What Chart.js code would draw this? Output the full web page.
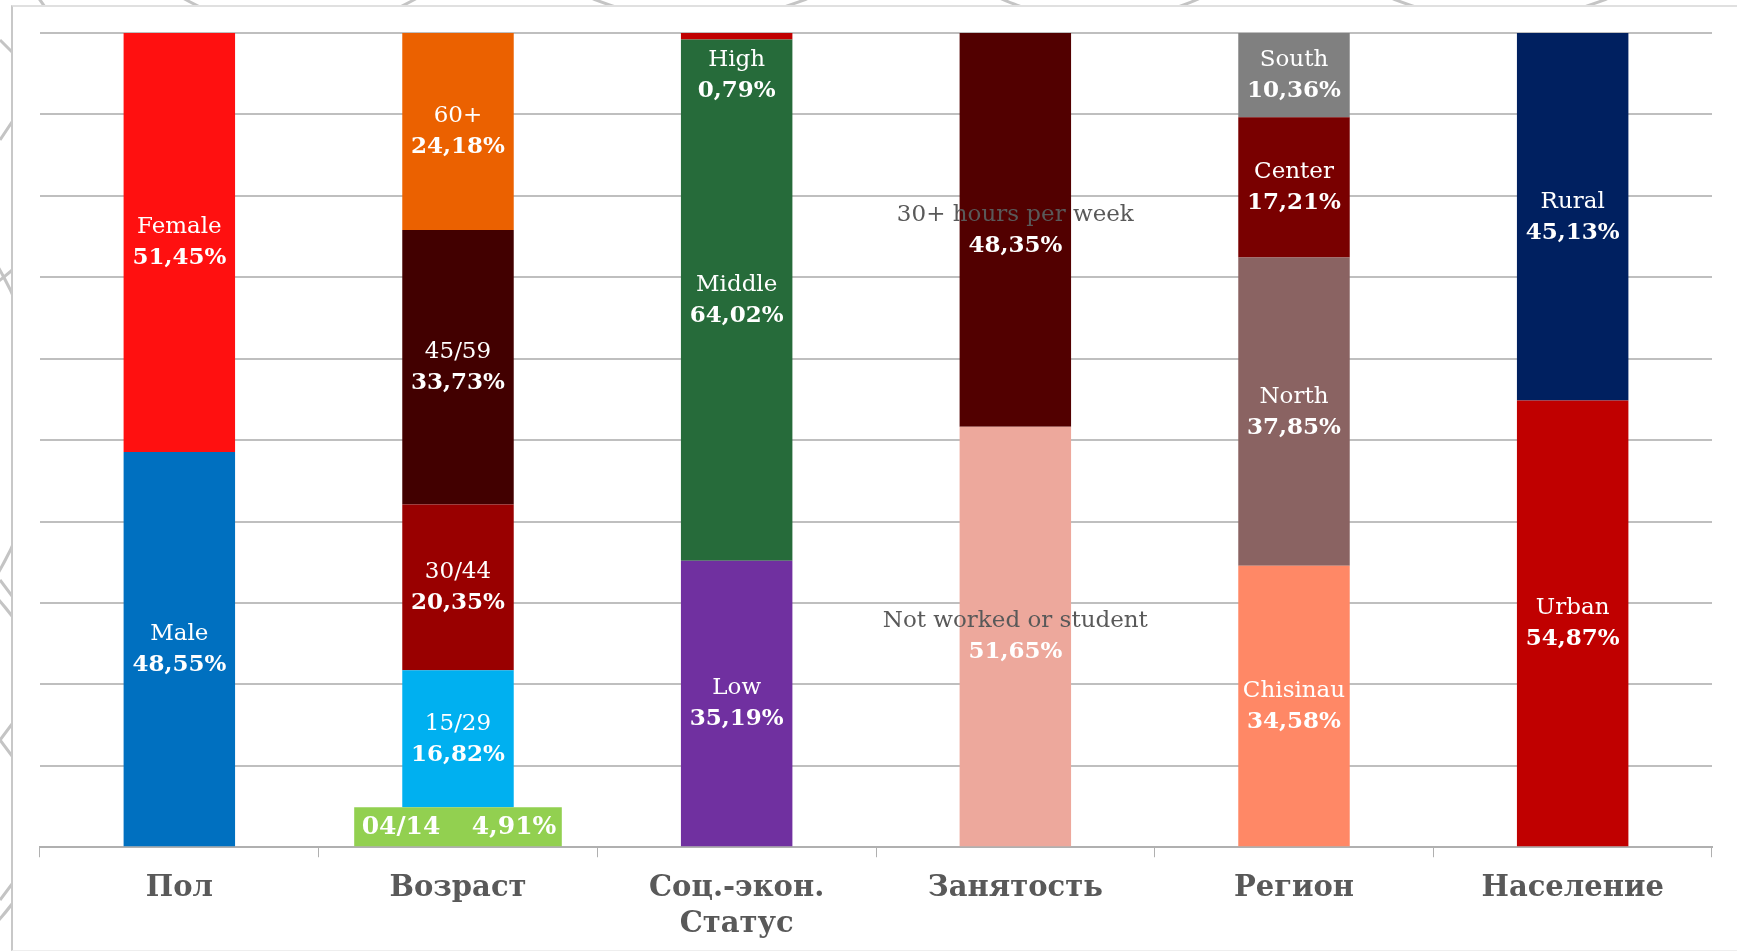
<!DOCTYPE html>
<html>
<head>
<meta charset="utf-8">
<script src="https://cdn.jsdelivr.net/npm/chart.js@4.4.1/dist/chart.umd.min.js"></script>
<style>
    html, body { margin: 0; padding: 0; background: #fff; overflow: hidden; }
    #bg { position: absolute; left: 0; top: 0; width: 1737px; height: 952px; }
    .panel {
        position: absolute; left: 11px; top: 5px; width: 1740px; height: 943px;
        background: #fff; border-left: 2px solid #c8c8c8; border-top: 2px solid #e0e0e0; border-bottom: 1px solid #eee;
    }
    #wrap { position: absolute; left: 0; top: 0; width: 1737px; height: 952px; }
</style>
</head>
<body>
<svg id="bg" width="1737" height="952">
    <g fill="none" stroke="#c4c4c4" stroke-width="3">
        <circle cx="-260" cy="420" r="300"/>
        <circle cx="-180" cy="760" r="240"/>
        <circle cx="-120" cy="120" r="200"/>
        <path d="M0 580 L60 660 L0 740 L60 820 L0 900"/>
        <path d="M0 40 L40 80 L0 140"/>
        <circle cx="300" cy="-200" r="230"/>
        <circle cx="700" cy="-260" r="280"/>
        <circle cx="1100" cy="-220" r="240"/>
        <circle cx="1500" cy="-260" r="280"/>
    </g>
</svg>
<div class="panel"></div>
<div id="wrap"><canvas id="chart"></canvas></div>
<script>
// --- Data ---
const categories = [['Пол'], ['Возраст'], ['Соц.-экон.', 'Статус'], ['Занятость'], ['Регион'], ['Население']];

// segments of each column, bottom to top
const polNames = ['Male', 'Female'];
const polValues = [48.55, 51.45];
const ageNames = ['04/14', '15/29', '30/44', '45/59', '60+'];
const ageValues = [4.91, 16.82, 20.35, 33.73, 24.18];
const sesNames = ['Low', 'Middle', 'High'];
const sesValues = [35.19, 64.02, 0.79];
const workNames = ['Not worked or student', '30+ hours per week'];
const workValues = [51.65, 48.35];
const regionNames = ['Chisinau', 'North', 'Center', 'South'];
const regionValues = [34.58, 37.85, 17.21, 10.36];
const popNames = ['Urban', 'Rural'];
const popValues = [54.87, 45.13];

// --- Styles ---
const columnColors = [
    ['#0070C0', '#FF1010'],
    ['#92D050', '#00B0F0', '#990000', '#420000', '#EB6100'],
    ['#7030A0', '#266B3A', '#C00000'],
    ['#EDA89C', '#520000'],
    ['#FF8866', '#8A6362', '#790000', '#808080'],
    ['#C00000', '#002060']
];
const nameColors = [
    ['#fff', '#fff'],
    ['#fff', '#fff', '#fff', '#fff', '#fff'],
    ['#fff', '#fff', '#fff'],
    ['#595959', '#595959'],
    ['#fff', '#fff', '#fff', '#fff'],
    ['#fff', '#fff']
];

const columns = [
    [polNames, polValues], [ageNames, ageValues], [sesNames, sesValues],
    [workNames, workValues], [regionNames, regionValues], [popNames, popValues]
];

function fmt(v) { return v.toFixed(2).replace('.', ',') + '%'; }

// dataset 0 is the wide 04/14 segment; datasets 1..4 are stacked levels
const datasets = [];
datasets.push({
    data: [null, ageValues[0], null, null, null, null],
    backgroundColor: columnColors[1][0],
    barPercentage: 0.745,
    names: [null, ageNames[0], null, null, null, null],
    nameColors: ['#fff', '#fff', '#fff', '#fff', '#fff', '#fff'],
    inline: true
});
for (let lvl = 0; lvl < 4; lvl++) {
    const data = [], colors = [], names = [], ncol = [];
    columns.forEach(([names_, values], ci) => {
        // age column skips its first (wide) segment
        const idx = ci === 1 ? lvl + 1 : lvl;
        data.push(idx < values.length ? values[idx] : null);
        colors.push(columnColors[ci][idx] || '#000');
        names.push(idx < names_.length ? names_[idx] : null);
        ncol.push((nameColors[ci][idx]) || '#fff');
    });
    datasets.push({ data, backgroundColor: colors, barPercentage: 0.4, names, nameColors: ncol });
}

const nameFont = '23px "DejaVu Serif"';
const valueFont = 'bold 23px "DejaVu Serif"';

const segmentLabels = {
    id: 'segmentLabels',
    afterDatasetsDraw(chart) {
        const ctx = chart.ctx;
        ctx.save();
        ctx.textAlign = 'center';
        ctx.textBaseline = 'middle';
        chart.data.datasets.forEach((ds, di) => {
            chart.getDatasetMeta(di).data.forEach((el, i) => {
                const v = ds.data[i];
                if (v == null) return;
                const top = Math.min(el.y, el.base), bottom = Math.max(el.y, el.base);
                let cy = (top + bottom) / 2;
                if (ds.inline) {
                    ctx.fillStyle = '#fff';
                    ctx.font = 'bold 25px "DejaVu Serif"';
                    ctx.fillText(ds.names[i], el.x - 57, cy + 1);
                    ctx.fillText(fmt(v), el.x + 56, cy + 1);
                    return;
                }
                if (bottom - top < 30) cy = bottom + 36; // thin segment: label below it
                ctx.font = nameFont;
                ctx.fillStyle = ds.nameColors[i];
                ctx.fillText(ds.names[i], el.x, cy - 15);
                ctx.font = valueFont;
                ctx.fillStyle = '#fff';
                ctx.fillText(fmt(v), el.x, cy + 16);
            });
        });
        ctx.restore();
    }
};

new Chart(document.getElementById('chart').getContext('2d'), {
    type: 'bar',
    data: { labels: categories, datasets },
    plugins: [segmentLabels],
    options: {
        responsive: true,
        maintainAspectRatio: false,
        animation: false,
        layout: { padding: { left: 40, right: 25, top: 33, bottom: -4 } },
        plugins: { legend: { display: false }, tooltip: { enabled: false } },
        datasets: { bar: { categoryPercentage: 1 } },
        scales: {
            x: {
                stacked: true,
                grid: { drawOnChartArea: false, drawTicks: true, tickLength: 10, color: '#b0b0b0', offset: true },
                border: { display: true, color: '#b0b0b0', width: 2 },
                ticks: {
                    color: '#595959',
                    padding: 14,
                    font: { family: '"DejaVu Serif"', size: 29, weight: 'bold', lineHeight: 1.22 }
                }
            },
            y: {
                stacked: true,
                min: 0, max: 100,
                ticks: { display: false, stepSize: 10 },
                grid: { color: '#bfbfbf', lineWidth: 2, drawTicks: false },
                border: { display: false }
            }
        }
    }
});
</script>
</body>
</html>
